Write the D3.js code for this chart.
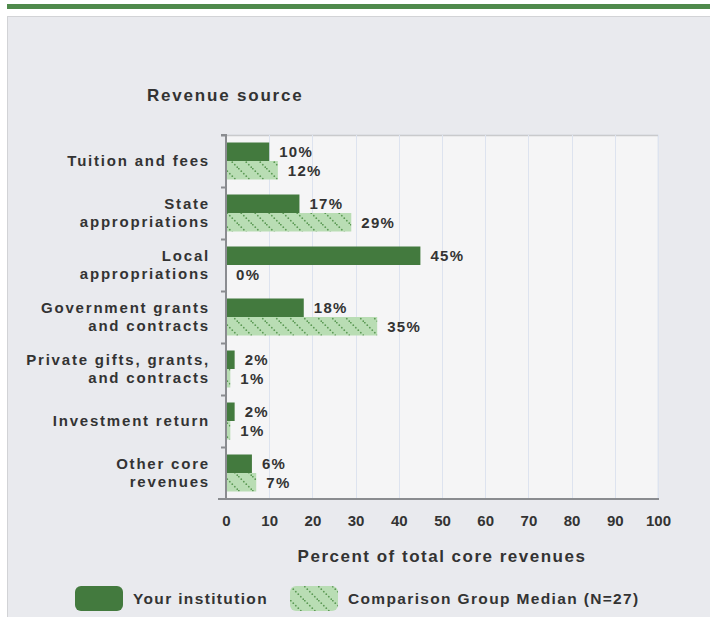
<!DOCTYPE html>
<html lang="en">
<head>
<meta charset="UTF-8" />
<title>Revenue source</title>
<script src="https://d3js.org/d3.v7.min.js"></script>
<style>
    body { margin: 0; background: #fff; }
    svg text { font-family: "Liberation Sans", Arial, sans-serif; font-weight: bold; fill: #333; }
</style>
</head>
<body>
<div id="chart"></div>
<script>
    // --- Data ---
    const categories = [
        ["Tuition and fees"],
        ["State", "appropriations"],
        ["Local", "appropriations"],
        ["Government grants", "and contracts"],
        ["Private gifts, grants,", "and contracts"],
        ["Investment return"],
        ["Other core", "revenues"]
    ];
    const yourValues = [10, 17, 45, 18, 2, 2, 6];
    const medianValues = [12, 29, 0, 35, 1, 1, 7];
    const xTicks = [0, 10, 20, 30, 40, 50, 60, 70, 80, 90, 100];
    const seriesNames = ["Your institution", "Comparison Group Median (N=27)"];

    const W = 710, H = 617;
    const dark = "#437a3e", light = "#b9ddb4";

    const svg = d3.select("#chart").append("svg")
        .attr("width", W).attr("height", H);

    const defs = svg.append("defs");
    const pat = defs.append("pattern")
        .attr("id", "dots")
        .attr("patternUnits", "userSpaceOnUse")
        .attr("width", 14).attr("height", 14);
    pat.append("rect").attr("width", 14).attr("height", 14).attr("fill", light);
    // diagonal rows of small dots running down to the right
    [[0, 1], [2.5, 3.5], [5, 6], [7.5, 8.5], [10, 11], [12.5, 13.5]].forEach(([x, y]) => {
        pat.append("circle").attr("cx", x + 0.8).attr("cy", y - 0.3).attr("r", 0.9).attr("fill", "#5c9a55");
    });

    // top stripe and panel
    svg.append("rect").attr("x", 7).attr("y", 4).attr("width", W - 7).attr("height", 5).attr("fill", "#4f8a4c");
    svg.append("rect").attr("x", 7.5).attr("y", 16.5).attr("width", W).attr("height", H)
        .attr("fill", "#e9eaee").attr("stroke", "#d2d3d6");

    const x0 = 226, x1 = 658, y0 = 135, y1 = 499;
    const x = d3.scaleLinear().domain([0, 100]).range([x0, x1]);
    const y = d3.scaleBand().domain(d3.range(categories.length)).range([y0, y1]);
    const yEdge = d3.scaleLinear().domain([0, categories.length]).range([y0, y1]);

    // plot area
    svg.append("rect").attr("x", x0).attr("y", y0).attr("width", x1 - x0).attr("height", y1 - y0)
        .attr("fill", "#f5f5f6").attr("stroke", "#dfe4ee");
    svg.append("line").attr("x1", x0).attr("x2", x1).attr("y1", y0 + 0.5).attr("y2", y0 + 0.5)
        .attr("stroke", "#c9cacc").attr("stroke-width", 1.5);

    svg.append("g").selectAll("line").data(xTicks.slice(1)).join("line")
        .attr("x1", d => Math.round(x(d)) + 0.5).attr("x2", d => Math.round(x(d)) + 0.5)
        .attr("y1", y0).attr("y2", y1)
        .attr("stroke", "#dde3ef");

    // bars
    const barH = 18.5;
    const gBars = svg.append("g");
    gBars.selectAll(".your").data(yourValues).join("rect")
        .attr("x", x0).attr("y", (d, i) => y(i) + y.bandwidth() / 2 - barH)
        .attr("width", d => x(d) - x0).attr("height", barH)
        .attr("fill", dark);
    gBars.selectAll(".med").data(medianValues).join("rect")
        .attr("x", x0).attr("y", (d, i) => y(i) + y.bandwidth() / 2)
        .attr("width", d => x(d) - x0).attr("height", barH)
        .attr("fill", "url(#dots)");

    // value labels
    const gLab = svg.append("g").attr("font-size", 15).style("letter-spacing", "1.3px");
    gLab.selectAll(".yl").data(yourValues).join("text")
        .attr("x", d => x(d) + 10).attr("y", (d, i) => y(i) + y.bandwidth() / 2 - barH / 2)
        .attr("dy", "0.35em").text(d => d + "%");
    gLab.selectAll(".ml").data(medianValues).join("text")
        .attr("x", d => x(d) + 10).attr("y", (d, i) => y(i) + y.bandwidth() / 2 + barH / 2)
        .attr("dy", "0.35em").text(d => d + "%");

    // axes
    const xAxis = svg.append("g").attr("transform", `translate(0,${y1})`)
        .call(d3.axisBottom(x).tickValues(xTicks).tickSize(0).tickPadding(16));
    xAxis.select(".domain").attr("d", `M${x0 - 8},0H${x1 + 1}`).attr("stroke", "#8a8c90").attr("stroke-width", 2);
    xAxis.selectAll("text").attr("font-size", 15).attr("font-family", null).attr("fill", "#333");

    const yAxis = svg.append("g").attr("transform", `translate(${x0},0)`)
        .call(d3.axisLeft(yEdge).tickValues(d3.range(categories.length)).tickSize(5).tickFormat(""));
    yAxis.select(".domain").attr("d", `M-5,${y0}H0V${y1}`).attr("stroke", "#8a8c90").attr("stroke-width", 2);
    yAxis.selectAll(".tick line").attr("stroke", "#8a8c90").attr("stroke-width", 2);

    // category labels
    const gCat = svg.append("g").attr("font-size", 15).attr("text-anchor", "end")
        .style("letter-spacing", "1.8px");
    categories.forEach((lines, i) => {
        const cy = y(i) + y.bandwidth() / 2;
        const t = gCat.append("text").attr("x", 210);
        lines.forEach((ln, j) => {
            t.append("tspan").attr("x", 210)
                .attr("y", cy + (j - (lines.length - 1) / 2) * 18)
                .attr("dy", "0.35em").text(ln);
        });
    });

    // titles
    svg.append("text").attr("x", 147).attr("y", 101).attr("font-size", 17)
        .style("letter-spacing", "1.8px").text("Revenue source");
    svg.append("text").attr("x", (x0 + x1) / 2).attr("y", 562).attr("font-size", 17)
        .attr("text-anchor", "middle").style("letter-spacing", "1.5px")
        .text("Percent of total core revenues");

    // legend
    const legendX = [75, 290];
    const lg = svg.append("g").selectAll("g").data(seriesNames).join("g")
        .attr("transform", (d, i) => `translate(${legendX[i]},586)`);
    lg.append("rect").attr("width", 48).attr("height", 25).attr("rx", 6)
        .attr("fill", (d, i) => i === 0 ? dark : "url(#dots)");
    lg.append("text").attr("x", 58).attr("y", 13).attr("dy", "0.35em")
        .attr("font-size", 15.5).style("letter-spacing", "1.35px").text(d => d);
</script>
</body>
</html>
